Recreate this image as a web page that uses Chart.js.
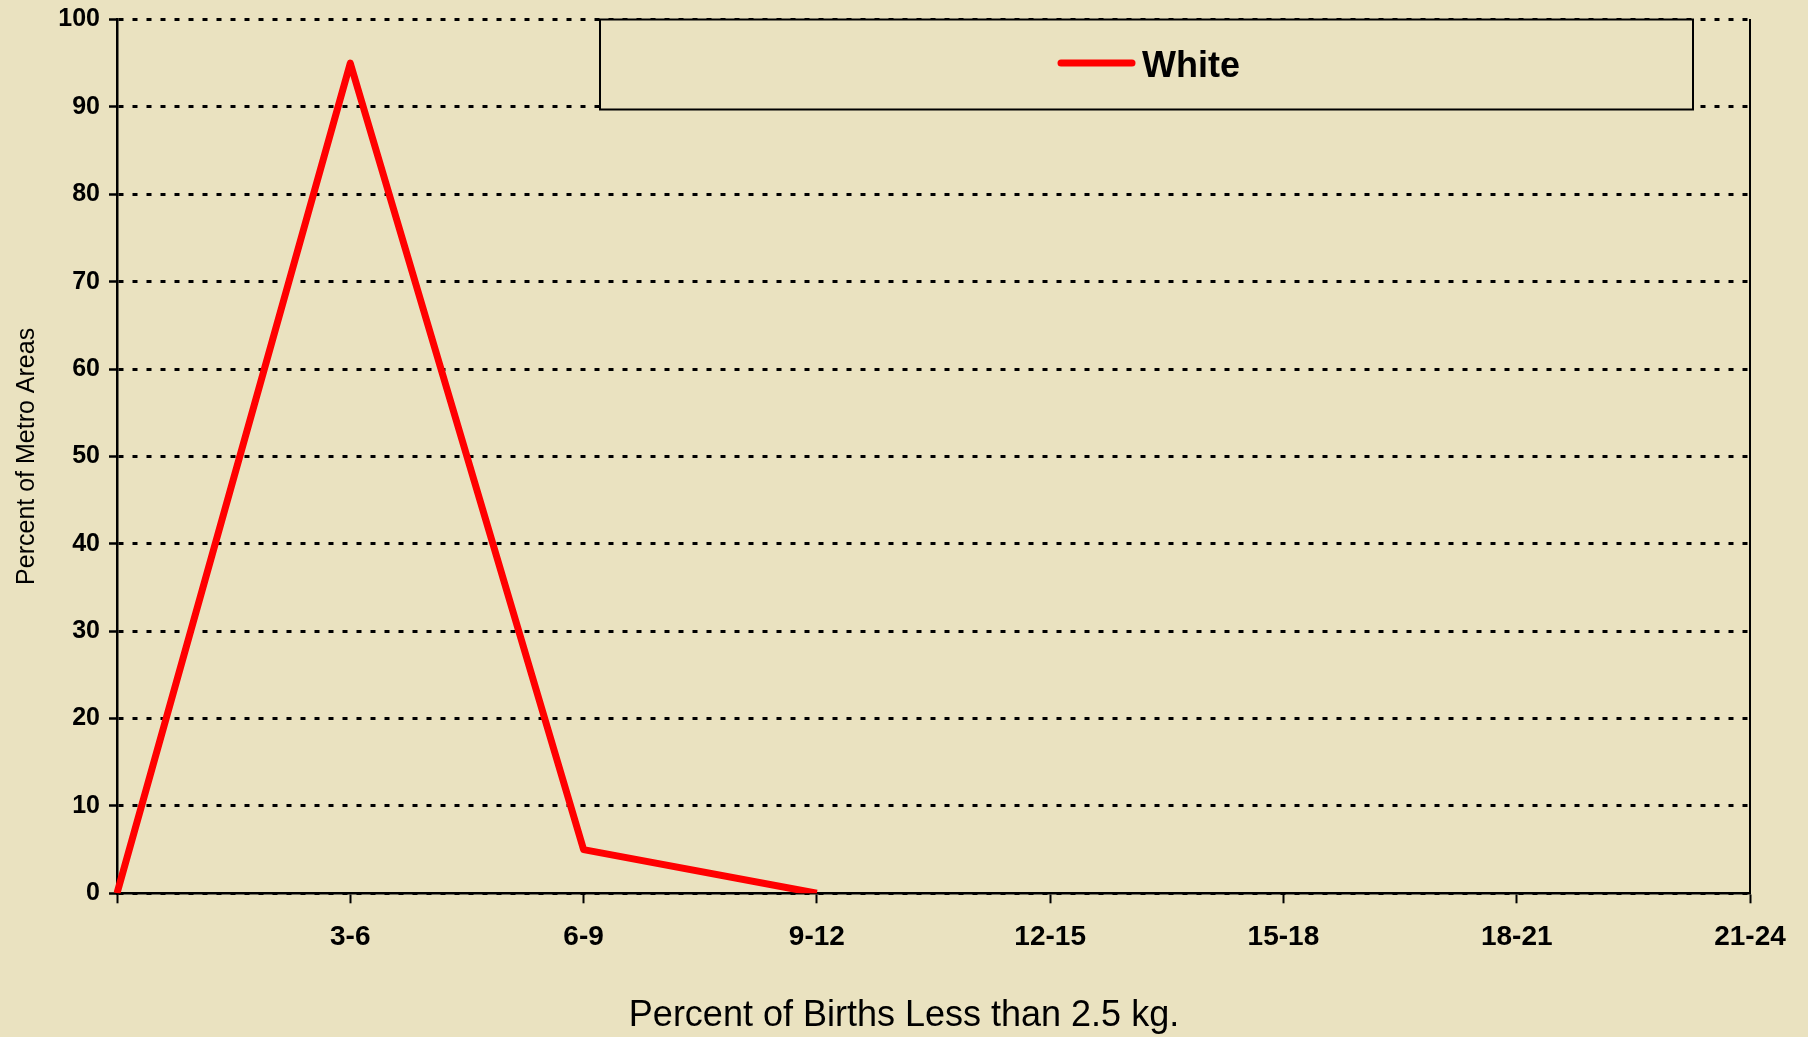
<!DOCTYPE html>
<html>
<head>
<meta charset="utf-8">
<title>Percent of Births Less than 2.5 kg.</title>
<script src="https://cdn.jsdelivr.net/npm/chart.js@4.4.1/dist/chart.umd.min.js"></script>
<style>
  html, body { margin: 0; padding: 0; background: #EAE2C0; }
  #wrap { width: 1808px; height: 1037px; position: relative; }
</style>
</head>
<body>
<div id="wrap"><canvas id="birthChart"></canvas></div>
<script>
// chart data
const categories = ["", "3-6", "6-9", "9-12", "12-15", "15-18", "18-21", "21-24"];
const whiteValues = [0, 95, 5, 0, null, null, null, null];
const seriesName = "White";
const yTicks = { min: 0, max: 100, step: 10 };

const bgColor = "#EAE2C0";
const fontFamily = "'Liberation Sans', Arial, Helvetica, sans-serif";

// paints the tan background behind everything
const backgroundPlugin = {
    id: "bg",
    beforeDraw(chart) {
        const ctx = chart.ctx;
        ctx.save();
        ctx.fillStyle = bgColor;
        ctx.fillRect(0, 0, chart.width, chart.height);
        ctx.restore();
    }
};

// boxed legend sitting on the top of the plot, like the original
const boxLegendPlugin = {
    id: "boxLegend",
    afterDatasetsDraw(chart) {
        const ctx = chart.ctx;
        const ds = chart.data.datasets[0];
        ctx.save();
        ctx.fillStyle = bgColor;
        ctx.fillRect(600, 19.5, 1093, 90);
        ctx.strokeStyle = "#000";
        ctx.lineWidth = 2;
        ctx.strokeRect(600, 19.5, 1093, 90);

        ctx.strokeStyle = ds.borderColor;
        ctx.lineWidth = 7;
        ctx.lineCap = "round";
        ctx.beginPath();
        ctx.moveTo(1061, 63);
        ctx.lineTo(1132, 63);
        ctx.stroke();

        ctx.fillStyle = "#000";
        ctx.font = "bold 36px " + fontFamily;
        ctx.textBaseline = "alphabetic";
        ctx.textAlign = "left";
        ctx.fillText(ds.label, 1142, 77);
        ctx.restore();
    }
};

let ctx = document.getElementById("birthChart").getContext("2d");

new Chart(ctx, {
    type: "line",
    data: {
        labels: categories,
        datasets: [{
            label: seriesName,
            data: whiteValues,
            borderColor: "#FF0000",
            backgroundColor: "#FF0000",
            borderWidth: 7,
            borderJoinStyle: "round",
            pointRadius: 0,
            pointHoverRadius: 0,
            tension: 0,
            fill: false,
            spanGaps: false
        }]
    },
    options: {
        responsive: true,
        maintainAspectRatio: false,
        animation: false,
        events: [],
        layout: {
            padding: { left: 0, right: 0, top: 19.5, bottom: 0 }
        },
        plugins: {
            legend: { display: false },
            tooltip: { enabled: false },
            title: {
                display: true,
                position: "bottom",
                text: "Percent of Births Less than 2.5 kg.",
                color: "#000",
                font: { family: fontFamily, size: 36, weight: "normal", lineHeight: 1 },
                padding: { top: 0, bottom: 2.5 }
            }
        },
        scales: {
            x: {
                type: "category",
                offset: false,
                grid: {
                    drawOnChartArea: false,
                    drawTicks: true,
                    tickLength: 10,
                    tickWidth: 2,
                    tickColor: "#000"
                },
                border: { display: true, color: "#000", width: 2.5 },
                ticks: {
                    color: "#000",
                    padding: 17,
                    maxRotation: 0,
                    autoSkip: false,
                    font: { family: fontFamily, size: 28, weight: "bold" }
                },
                afterFit(scale) {
                    scale.height = 105.2;
                    scale.paddingLeft = 0;
                    scale.paddingRight = 0;
                }
            },
            y: {
                min: yTicks.min,
                max: yTicks.max,
                grid: {
                    color: "#000",
                    lineWidth: 3,
                    drawTicks: true,
                    tickLength: 8,
                    tickWidth: 2.5,
                    tickColor: "#000"
                },
                border: { display: true, color: "#000", width: 2.5, dash: [5, 9] },
                ticks: {
                    stepSize: yTicks.step,
                    color: "#000",
                    padding: 9,
                    font: { family: fontFamily, size: 25, weight: "bold" }
                },
                title: {
                    display: true,
                    text: "Percent of Metro Areas",
                    color: "#000",
                    font: { family: fontFamily, size: 25, weight: "normal", lineHeight: 1.2 },
                    padding: { top: 12, bottom: 0 }
                },
                afterFit(scale) {
                    scale.width = 117;
                    scale.paddingTop = 0;
                    scale.paddingBottom = 0;
                }
            },
            y2: {
                position: "right",
                min: yTicks.min,
                max: yTicks.max,
                grid: { drawOnChartArea: false, drawTicks: false },
                border: { display: true, color: "#000", width: 2 },
                ticks: { display: false },
                afterFit(scale) {
                    scale.width = 58;
                    scale.paddingTop = 0;
                    scale.paddingBottom = 0;
                }
            }
        }
    },
    plugins: [backgroundPlugin, boxLegendPlugin]
});
</script>
</body>
</html>
